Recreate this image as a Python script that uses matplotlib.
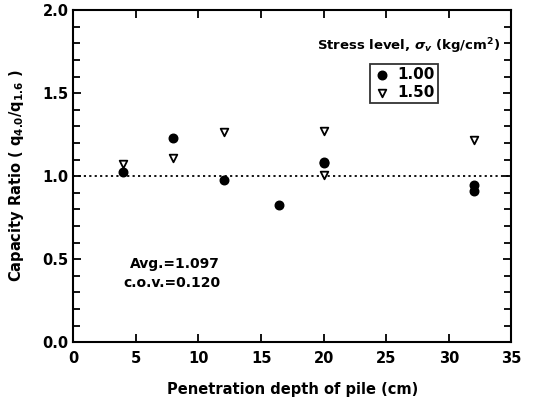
import matplotlib
matplotlib.use("Agg")
import matplotlib.pyplot as plt
from matplotlib.ticker import MultipleLocator

# stress level 1.00 kg/cm2 (filled circles)
depth_100 = [4, 8, 12, 16.4, 20, 20, 32, 32]
ratio_100 = [1.024, 1.228, 0.978, 0.828, 1.078, 1.088, 0.944, 0.908]

# stress level 1.50 kg/cm2 (open triangles)
depth_150 = [4, 8, 12, 20, 20, 32]
ratio_150 = [1.072, 1.112, 1.268, 1.274, 1.008, 1.220]

avg_text = "Avg.=1.097"
cov_text = "c.o.v.=0.120"

plt.rcParams['font.family'] = ['DejaVu Sans']
plt.rcParams['font.weight'] = 'bold'

fig = plt.figure(figsize=(5.35, 4.04), dpi=100)
ax = fig.add_axes([0.137, 0.153, 0.819, 0.822])

ax.axhline(1.0, color='black', linestyle=(0, (1.2, 1.8)), linewidth=1.3, zorder=1)

ax.scatter(depth_100, ratio_100, marker='o', s=38, color='black', label='1.00', zorder=3)
ax.scatter(depth_150, ratio_150, marker='v', s=30, facecolor='white', edgecolor='black',
           linewidth=1.3, label='1.50', zorder=3)

ax.set_xlim(0, 35)
ax.set_ylim(0, 2.0)
ax.xaxis.set_major_locator(MultipleLocator(5))
ax.yaxis.set_major_locator(MultipleLocator(0.5))
ax.yaxis.set_minor_locator(MultipleLocator(0.1))
ax.tick_params(which='both', direction='in', top=True, right=True, width=1.3,
               labelsize=10.5)
ax.tick_params(which='major', length=6)
ax.tick_params(which='minor', length=5)
ax.tick_params(axis='x', pad=6)
ax.yaxis.set_major_formatter(matplotlib.ticker.FormatStrFormatter('%.1f'))
for s in ax.spines.values():
    s.set_linewidth(1.5)

ax.set_xlabel("Penetration depth of pile (cm)", fontsize=10.5, fontweight='bold', labelpad=12)
ax.set_ylabel(r"Capacity Ratio ( q$_{\mathbf{4.0}}$/q$_{\mathbf{1.6}}$ )", fontsize=10.5,
              fontweight='bold', labelpad=12)

ax.text(0.975, 0.89, r"Stress level, $\sigma_v$ (kg/cm$^2$)", transform=ax.transAxes,
        ha='right', va='center', fontsize=9.5, fontweight='bold')

leg = ax.legend(loc='upper left', bbox_to_anchor=(0.66, 0.862), frameon=True, fancybox=False,
                edgecolor='black', fontsize=11, handletextpad=0.5, borderpad=0.25,
                labelspacing=0.15, handlelength=1.0)
leg.get_frame().set_linewidth(1.3)

ax.text(0.335, 0.235, avg_text, transform=ax.transAxes, ha='right', va='center',
        fontsize=10, fontweight='bold')
ax.text(0.335, 0.178, cov_text, transform=ax.transAxes, ha='right', va='center',
        fontsize=10, fontweight='bold')

fig.savefig("out.png", dpi=100)
